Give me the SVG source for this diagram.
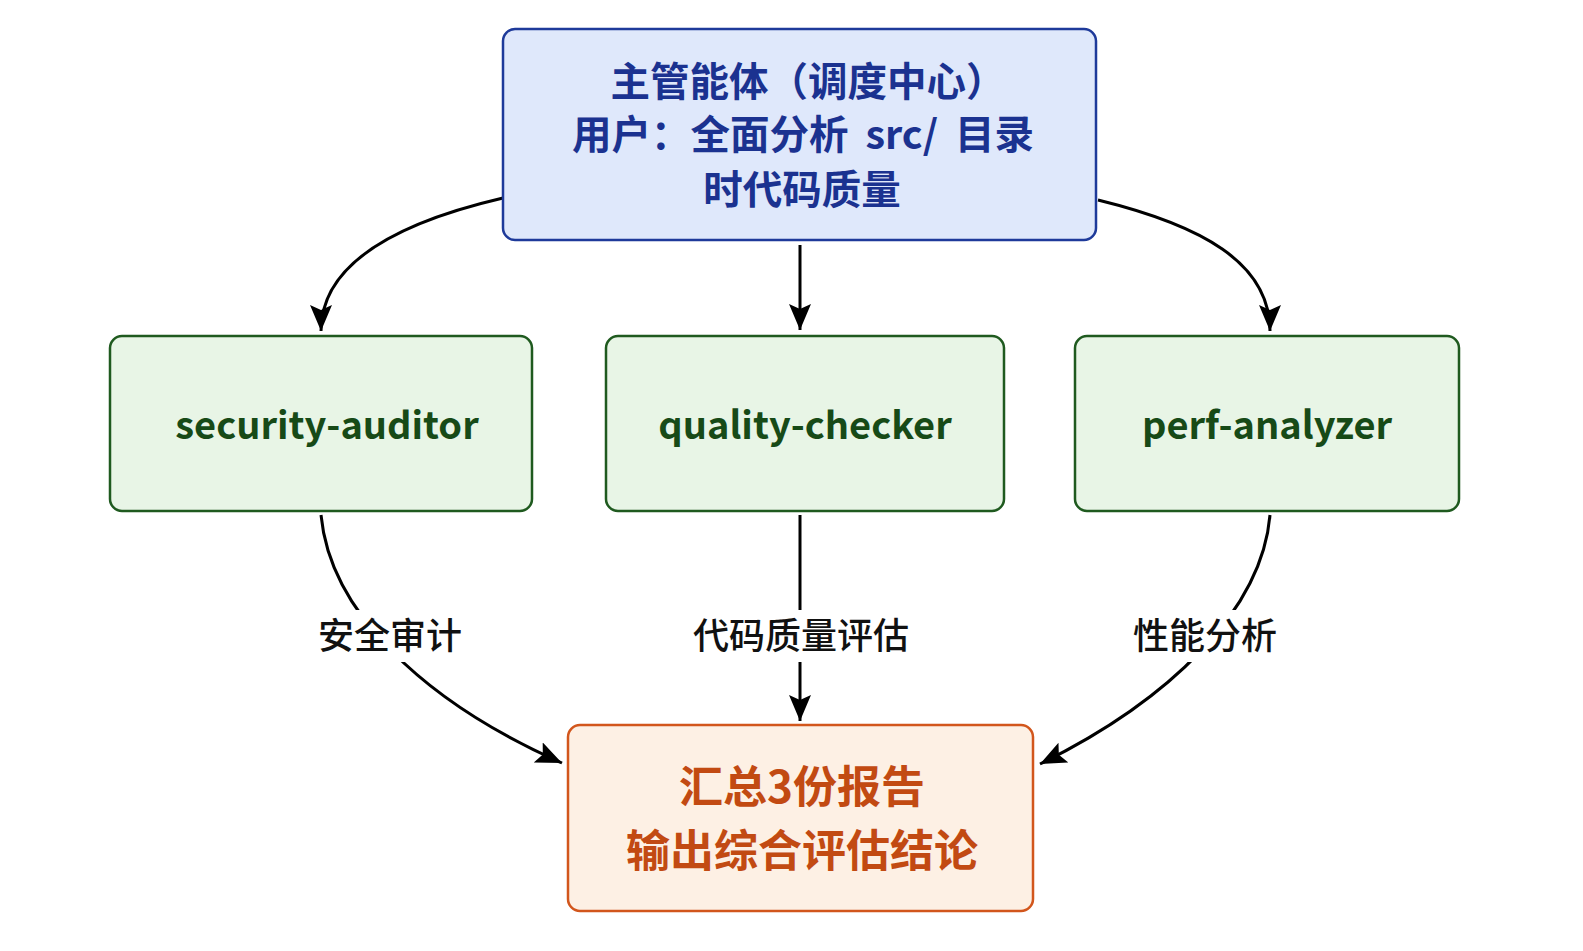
<svg xmlns="http://www.w3.org/2000/svg" width="1583" height="951" viewBox="0 0 1583 951">
<defs>
<marker id="arr" markerUnits="userSpaceOnUse" markerWidth="30" markerHeight="26" refX="26" refY="11" orient="auto">
<path d="M0,0 L26,11 L0,22 L5,11 z" fill="#000"/>
</marker>
<style>
.top rect{fill:#dfe8fb;stroke:#1e3a9a;stroke-width:2.5}
.top text{fill:#1b3290;font-family:"Noto Sans CJK SC","Noto Sans",sans-serif;font-weight:700;font-size:39.5px;text-anchor:middle}
.agent rect{fill:#e8f5e6;stroke:#1f5a1f;stroke-width:2.5}
.agent text{fill:#174a17;font-family:"Noto Sans CJK SC","Noto Sans",sans-serif;font-weight:700;font-size:38px;text-anchor:middle}
.out rect{fill:#fdf0e4;stroke:#d2561c;stroke-width:2.5}
.out text{fill:#c24a12;font-family:"Noto Sans CJK SC","Noto Sans",sans-serif;font-weight:700;font-size:44px;text-anchor:middle}
.edge{fill:none;stroke:#000;stroke-width:3;marker-end:url(#arr)}
.lbl rect{fill:#fff}
.lbl text{fill:#111;font-family:"Noto Sans CJK SC","Noto Sans",sans-serif;font-weight:500;font-size:36px;text-anchor:middle}
</style>
</defs>
<rect width="1583" height="951" fill="#fff"/>
<g id="connectors">
<path class="edge" d="M503,198 C400,222 321,262 321,331"/>
<path class="edge" d="M800,245 L800,330"/>
<path class="edge" d="M1098,200 C1200,225 1270,262 1270,331"/>
<path class="edge" d="M321,515 C330,610 420,700 562,763"/>
<path class="edge" d="M800,515 L800,721"/>
<path class="edge" d="M1270,515 C1262,610 1170,700 1040,764"/>
<g class="lbl">
<rect x="312" y="610" width="156" height="52"/>
<text x="390" y="649">安全审计</text>
<rect x="686" y="610" width="228" height="52"/>
<text x="801" y="649">代码质量评估</text>
<rect x="1126" y="610" width="156" height="52"/>
<text x="1205" y="649">性能分析</text>
</g>
</g>
<g id="node-supervisor" class="top">
<rect x="503" y="29" width="593" height="211" rx="12"/>
<text x="808" y="96">主管能体（调度中心）</text>
<text x="803" y="149" word-spacing="8">用户：全面分析 src/ 目录</text>
<text x="802" y="204">时代码质量</text>
</g>
<g id="node-security" class="agent">
<rect x="110" y="336" width="422" height="175" rx="12"/>
<text x="327" y="439">security-auditor</text>
</g>
<g id="node-quality" class="agent">
<rect x="606" y="336" width="398" height="175" rx="12"/>
<text x="805" y="439">quality-checker</text>
</g>
<g id="node-perf" class="agent">
<rect x="1075" y="336" width="384" height="175" rx="12"/>
<text x="1267" y="439">perf-analyzer</text>
</g>
<g id="node-summary" class="out">
<rect x="568" y="725" width="465" height="186" rx="12"/>
<text x="802" y="803">汇总3份报告</text>
<text x="802" y="867">输出综合评估结论</text>
</g>
</svg>
